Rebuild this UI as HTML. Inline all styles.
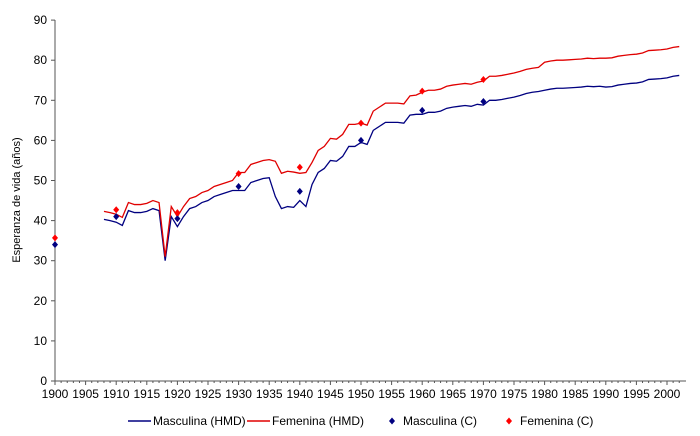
<!DOCTYPE html>
<html><head><meta charset="utf-8"><style>body{margin:0;background:#fff}svg{display:block}text{font-family:"Liberation Sans",sans-serif;font-size:12px;fill:#000}</style></head>
<body><svg id="s" width="700" height="436" xmlns="http://www.w3.org/2000/svg"></svg>
<script>
const s=document.getElementById('s');
const X=y=>55+6.12*(y-1900), Y=v=>381-4.01*v;
let h='';
h+='<line x1="55" y1="20" x2="55" y2="381" stroke="#555"/><line x1="55" y1="381" x2="686" y2="381" stroke="#555"/>';
for(let v=0;v<=90;v+=10){h+=`<line x1="51" x2="55" y1="${Y(v)}" y2="${Y(v)}" stroke="#555"/><text x="47" y="${Y(v)+4}" text-anchor="end">${v}</text>`;}
for(let y=1900;y<=2002;y++){const l=y%5==0?4:2;h+=`<line x1="${X(y)}" x2="${X(y)}" y1="381" y2="${381+l}" stroke="#555"/>`;}
for(let y=1900;y<=2000;y+=5)h+=`<text x="${X(y)}" y="398" text-anchor="middle">${y}</text>`;
h+='<text transform="translate(20,200) rotate(-90)" text-anchor="middle" style="font-size:11px">Esperanza de vida (años)</text>';
const m={1908:40.3,1909:40,1910:39.6,1911:38.8,1912:42.5,1913:42,1914:42,1915:42.3,1916:43,1917:42.5,1918:30,1919:41,1920:38.5,1921:41,1922:43,1923:43.5,1924:44.5,1925:45,1926:46,1927:46.5,1928:47,1929:47.5,1930:47.5,1931:47.5,1932:49.5,1933:50,1934:50.5,1935:50.7,1936:46,1937:43,1938:43.5,1939:43.3,1940:45,1941:43.5,1942:49,1943:52,1944:53,1945:55,1946:54.8,1947:56,1948:58.5,1949:58.5,1950:59.5,1951:59,1952:62.5,1953:63.5,1954:64.5,1955:64.5,1956:64.5,1957:64.3,1958:66.3,1959:66.5,1960:66.5,1961:67,1962:67,1963:67.3,1964:68,1965:68.3,1966:68.5,1967:68.7,1968:68.5,1969:69,1970:68.8,1971:70,1972:70,1973:70.2,1974:70.5,1975:70.8,1976:71.2,1977:71.7,1978:72,1979:72.2,1980:72.5,1981:72.8,1982:73,1983:73,1984:73.1,1985:73.2,1986:73.3,1987:73.5,1988:73.4,1989:73.5,1990:73.3,1991:73.4,1992:73.8,1993:74,1994:74.2,1995:74.3,1996:74.6,1997:75.2,1998:75.3,1999:75.4,2000:75.6,2001:76,2002:76.2};
const gap=y=>y<1918?2:y==1918?1:y<1930?2.5:y<1936?4.5:y<1940?8.8:y==1940?6.8:y==1941?8.5:y<1950?5.5:y<1960?4.8:y<1970?5.5:y<1980?6:y<1990?7:7.2;
let pm='',pf='';
for(const k in m){const y=+k;pm+=`${X(y)},${Y(m[k])} `;pf+=`${X(y)},${Y(m[k]+gap(y))} `;}
h+=`<polyline points="${pm}" fill="none" stroke="#000080" stroke-width="1.3"/><polyline points="${pf}" fill="none" stroke="#e00000" stroke-width="1.3"/>`;
const dm=[[1900,34],[1910,41],[1920,40.5],[1930,48.5],[1940,47.3],[1950,60],[1960,67.5],[1970,69.7]];
const df=[[1900,35.7],[1910,42.7],[1920,42],[1930,51.7],[1940,53.3],[1950,64.3],[1960,72.3],[1970,75.2]];
const dia=(x,y,c)=>`<polygon points="${x},${y-3.5} ${x+3},${y} ${x},${y+3.5} ${x-3},${y}" fill="${c}"/>`;
dm.forEach(d=>h+=dia(X(d[0]),Y(d[1]),'#000080'));
df.forEach(d=>h+=dia(X(d[0]),Y(d[1]),'#ff0000'));
h+='<line x1="128" x2="151" y1="421" y2="421" stroke="#000080" stroke-width="1.5"/><text x="153" y="425">Masculina (HMD)</text>';
h+='<line x1="247" x2="270" y1="421" y2="421" stroke="#e00000" stroke-width="1.5"/><text x="272" y="425">Femenina (HMD)</text>';
h+=dia(392,421,'#000080')+'<text x="403" y="425">Masculina (C)</text>';
h+=dia(509,421,'#ff0000')+'<text x="520" y="425">Femenina (C)</text>';
s.innerHTML=h;
</script></body></html>
